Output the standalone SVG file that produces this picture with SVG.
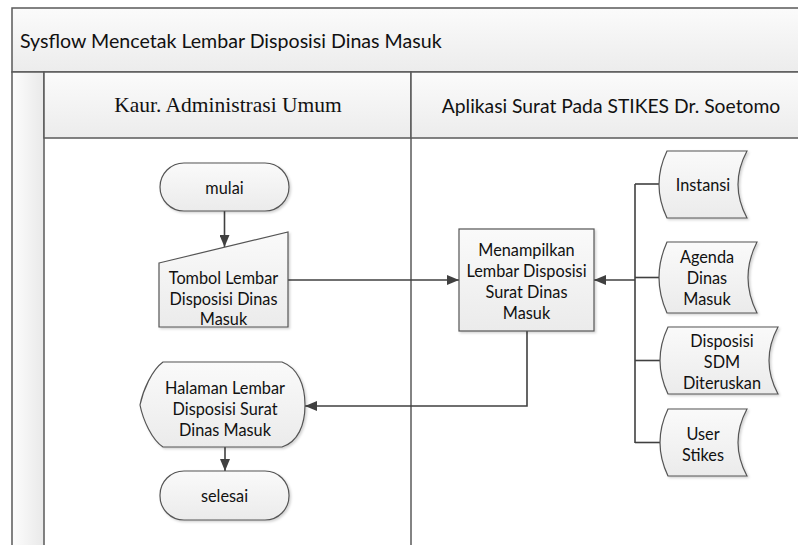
<svg xmlns="http://www.w3.org/2000/svg" width="798" height="545" viewBox="0 0 798 545">
  <defs>
    <linearGradient id="bandV" x1="0" y1="0" x2="0" y2="1">
      <stop offset="0" stop-color="#fbfbfb"/>
      <stop offset="1" stop-color="#ececec"/>
    </linearGradient>
    <linearGradient id="stripH" x1="0" y1="0" x2="1" y2="0">
      <stop offset="0" stop-color="#fdfdfd"/>
      <stop offset="1" stop-color="#e9e9e9"/>
    </linearGradient>
    <linearGradient id="shapeFill" x1="0" y1="0" x2="0" y2="1">
      <stop offset="0" stop-color="#fafafa"/>
      <stop offset="1" stop-color="#ebebeb"/>
    </linearGradient>
    <filter id="shadow" x="-10%" y="-10%" width="130%" height="130%">
      <feDropShadow dx="1.5" dy="1.5" stdDeviation="1" flood-color="#000" flood-opacity="0.18"/>
    </filter>
    <marker id="arrow" viewBox="0 0 12 10" refX="12" refY="5" markerWidth="12" markerHeight="10" markerUnits="userSpaceOnUse" orient="auto">
      <path d="M0,0 L12,5 L0,10 Z" fill="#404040"/>
    </marker>
  </defs>
  <style>
    .frame { fill: none; stroke: #5a5a5a; stroke-width: 1.5; }
    .shape { fill: url(#shapeFill); stroke: #555; stroke-width: 1.2; filter: url(#shadow); }
    .label { font-family: Lato, "Open Sans", "Liberation Sans", sans-serif; font-size: 16.3px; fill: #111; text-anchor: middle; dominant-baseline: central; }
    .title { font-family: Lato, "Open Sans", "Liberation Sans", sans-serif; font-size: 19.6px; fill: #111; dominant-baseline: central; }
    .lane-serif { font-family: "Liberation Serif", "Times New Roman", serif; font-size: 21.5px; fill: #111; text-anchor: middle; dominant-baseline: central; }
    .lane-sans { font-family: Lato, "Open Sans", "Liberation Sans", sans-serif; font-size: 19.3px; fill: #111; text-anchor: middle; dominant-baseline: central; }
    .conn { fill: none; stroke: #404040; stroke-width: 1.6; }
  </style>

  <!-- swimlane frame -->
  <g id="pool">
    <rect x="12" y="8" width="800" height="64" fill="url(#bandV)" stroke="#5a5a5a" stroke-width="1.5"/>
    <text class="title" x="20" y="40">Sysflow Mencetak Lembar Disposisi Dinas Masuk</text>
    <rect x="12" y="72" width="32" height="480" fill="url(#stripH)" stroke="#5a5a5a" stroke-width="1.5"/>
    <rect x="44" y="72" width="367" height="66" fill="url(#bandV)" stroke="#5a5a5a" stroke-width="1.5"/>
    <rect x="411" y="72" width="400" height="66" fill="url(#bandV)" stroke="#5a5a5a" stroke-width="1.5"/>
    <text class="lane-serif" x="228" y="105">Kaur. Administrasi Umum</text>
    <text class="lane-sans" x="611" y="105">Aplikasi Surat Pada STIKES Dr. Soetomo</text>
    <line x1="411" y1="138" x2="411" y2="550" stroke="#5a5a5a" stroke-width="1.5"/>
  </g>

  <!-- connectors -->
  <g id="connectors">
    <path class="conn" d="M224.5,211 V247" marker-end="url(#arrow)"/>
    <path class="conn" d="M288,280 H459" marker-end="url(#arrow)"/>
    <path class="conn" d="M635,184 V443"/>
    <path class="conn" d="M635,184 H659"/>
    <path class="conn" d="M635,277.5 H659"/>
    <path class="conn" d="M635,360.5 H660"/>
    <path class="conn" d="M635,442.5 H660"/>
    <path class="conn" d="M635,280 H594" marker-end="url(#arrow)"/>
    <path class="conn" d="M527,331 V406 H305" marker-end="url(#arrow)"/>
    <path class="conn" d="M225,447 V471" marker-end="url(#arrow)"/>
  </g>

  <g id="mulai">
    <rect class="shape" x="160" y="163" width="129" height="48" rx="24" ry="24"/>
    <text class="label" x="224.5" y="187">mulai</text>
  </g>

  <g id="tombol">
    <path class="shape" d="M159,263 L288,232 L288,327 L159,327 Z"/>
    <text class="label" x="223.5" y="277">Tombol Lembar</text>
    <text class="label" x="223.5" y="298">Disposisi Dinas</text>
    <text class="label" x="223.5" y="318">Masuk</text>
  </g>

  <g id="menampilkan">
    <rect class="shape" x="459" y="229" width="135" height="102"/>
    <text class="label" x="526.5" y="249">Menampilkan</text>
    <text class="label" x="526.5" y="270">Lembar Disposisi</text>
    <text class="label" x="526.5" y="291">Surat Dinas</text>
    <text class="label" x="526.5" y="312">Masuk</text>
  </g>

  <g id="instansi">
    <path class="shape" d="M667,151 L747,151 Q729,184.5 747,218 L667,218 Q651,184.5 667,151 Z"/>
    <text class="label" x="703" y="184">Instansi</text>
  </g>

  <g id="agenda">
    <path class="shape" d="M667,242 L757,242 Q739,277.5 757,313 L667,313 Q651,277.5 667,242 Z"/>
    <text class="label" x="707" y="256">Agenda</text>
    <text class="label" x="707" y="277">Dinas</text>
    <text class="label" x="707" y="298">Masuk</text>
  </g>

  <g id="disposisi-sdm">
    <path class="shape" d="M668,327 L778,327 Q760,360.5 778,394 L668,394 Q652,360.5 668,327 Z"/>
    <text class="label" x="722" y="340">Disposisi</text>
    <text class="label" x="722" y="361">SDM</text>
    <text class="label" x="722" y="382">Diteruskan</text>
  </g>

  <g id="user-stikes">
    <path class="shape" d="M668,409 L747,409 Q729,442.5 747,476 L668,476 Q652,442.5 668,409 Z"/>
    <text class="label" x="703" y="433">User</text>
    <text class="label" x="703" y="454">Stikes</text>
  </g>

  <g id="halaman">
    <path class="shape" d="M163,362 L282,362 C298,368 305,385 305,405 C305,425 298,442 282,447 L163,447 C152,440 143,420 140,405 C143,390 152,370 163,362 Z"/>
    <text class="label" x="225" y="387">Halaman Lembar</text>
    <text class="label" x="225" y="408">Disposisi Surat</text>
    <text class="label" x="225" y="429">Dinas Masuk</text>
  </g>

  <g id="selesai">
    <rect class="shape" x="160" y="471" width="129" height="49" rx="24" ry="24"/>
    <text class="label" x="224.5" y="495.5">selesai</text>
  </g>
</svg>
